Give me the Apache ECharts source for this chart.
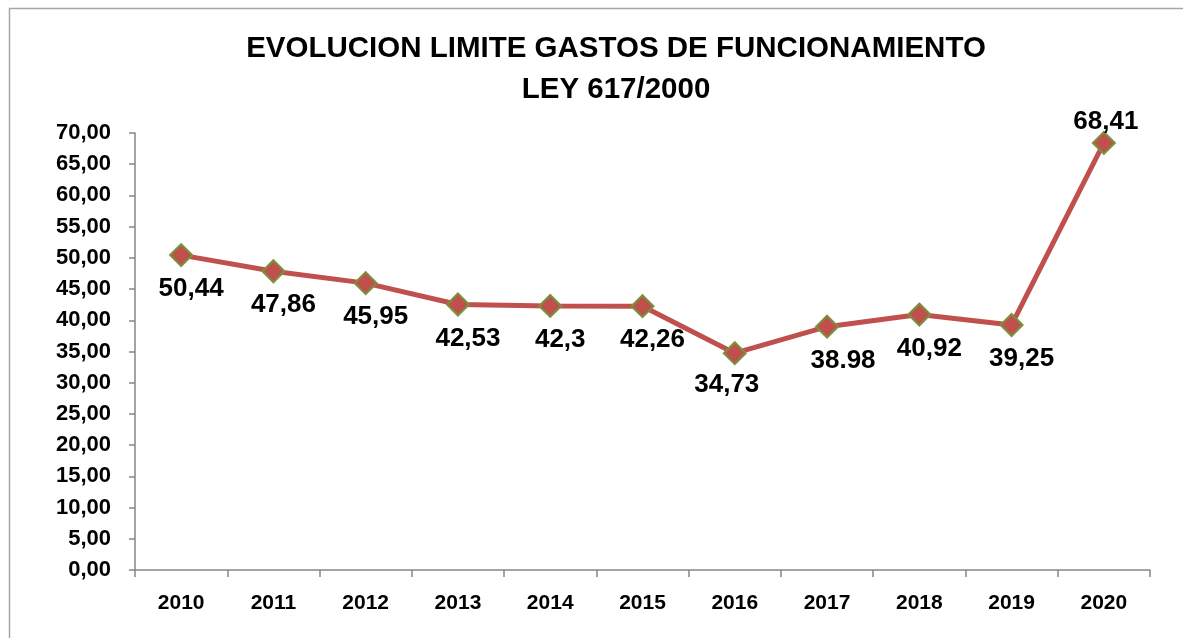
<!DOCTYPE html>
<html>
<head>
<meta charset="utf-8">
<title>Evolución límite gastos de funcionamiento</title>
<script src="https://cdn.jsdelivr.net/npm/echarts@6/dist/echarts.min.js"></script>
<style>
  html, body { margin: 0; padding: 0; background: #ffffff; }
  #chart { width: 1183px; height: 638px; }
</style>
</head>
<body>
<div id="chart"></div>
<script>
// Years on the category axis
const years = ['2010', '2011', '2012', '2013', '2014', '2015', '2016', '2017', '2018', '2019', '2020'];
// Limit of operating expenses per year
const limitValues = [50.44, 47.86, 45.95, 42.53, 42.3, 42.26, 34.73, 38.98, 40.92, 39.25, 68.41];
// Value labels as printed next to each point
const valueLabels = ['50,44', '47,86', '45,95', '42,53', '42,3', '42,26', '34,73', '38.98', '40,92', '39,25', '68,41'];
// Title lines
const titleLines = ['EVOLUCION LIMITE GASTOS DE FUNCIONAMIENTO', 'LEY 617/2000'];

const FONT = '"Liberation Sans", Arial, sans-serif';
const AXIS_GREY = '#868686';

const chart = echarts.init(document.getElementById('chart'), null, { renderer: 'canvas' });

const lastIndex = limitValues.length - 1;
const seriesData = limitValues.map((v, i) => {
  const item = { value: v };
  if (i === lastIndex) {
    // the final peak carries its label above the marker
    item.label = { position: 'top', distance: -4, offset: [2, 0] };
  } else if (years[i] === '2016') {
    // the dip label sits slightly to the left of its marker
    item.label = { offset: [-8, -2] };
  } else if (years[i] === '2017') {
    item.label = { offset: [16, 0] };
  }
  return item;
});

chart.setOption({
  animation: false,
  backgroundColor: '#ffffff',
  graphic: [{
    type: 'rect',
    shape: { x: 9.5, y: 8.5, width: 1200, height: 700 },
    style: { fill: 'none', stroke: '#a6a6a6', lineWidth: 1.5 },
    silent: true,
    z: -1
  }, {
    // two-line chart title, centred over the plot area
    type: 'text',
    x: 616,
    y: 28,
    silent: true,
    style: {
      text: titleLines.join('\n'),
      align: 'center',
      verticalAlign: 'top',
      fontFamily: FONT,
      fontWeight: 'bold',
      fontSize: 29.5,
      lineHeight: 41,
      fill: '#000000'
    }
  }],
  grid: { left: 135, right: 33, top: 133, bottom: 68, containLabel: false },
  xAxis: {
    type: 'category',
    data: years,
    boundaryGap: true,
    axisLine: { lineStyle: { color: AXIS_GREY, width: 1.5 } },
    axisTick: { show: true, length: 7, alignWithLabel: false, lineStyle: { color: AXIS_GREY, width: 1.5 } },
    axisLabel: {
      margin: 23,
      fontFamily: FONT,
      fontWeight: 'bold',
      fontSize: 21,
      color: '#000000'
    },
    splitLine: { show: false }
  },
  yAxis: {
    type: 'value',
    min: 0,
    max: 70,
    interval: 5,
    axisLine: { show: true, lineStyle: { color: AXIS_GREY, width: 1.5 } },
    axisTick: { show: true, inside: false, length: 6, lineStyle: { color: AXIS_GREY, width: 1.5 } },
    axisLabel: {
      margin: 24,
      fontFamily: FONT,
      fontWeight: 'bold',
      fontSize: 22,
      color: '#000000',
      formatter: v => v.toFixed(2).replace('.', ',')
    },
    splitLine: { show: false }
  },
  series: [{
    type: 'line',
    data: seriesData,
    symbol: 'diamond',
    symbolSize: 22,
    lineStyle: { color: '#c0504d', width: 5 },
    itemStyle: { color: '#c0504d', borderColor: '#77933c', borderWidth: 2 },
    label: {
      show: true,
      position: 'bottom',
      distance: 9,
      offset: [10, 0],
      fontFamily: FONT,
      fontWeight: 'bold',
      fontSize: 26,
      color: '#000000',
      formatter: p => valueLabels[p.dataIndex]
    },
    emphasis: { disabled: true }
  }]
});
</script>
</body>
</html>
